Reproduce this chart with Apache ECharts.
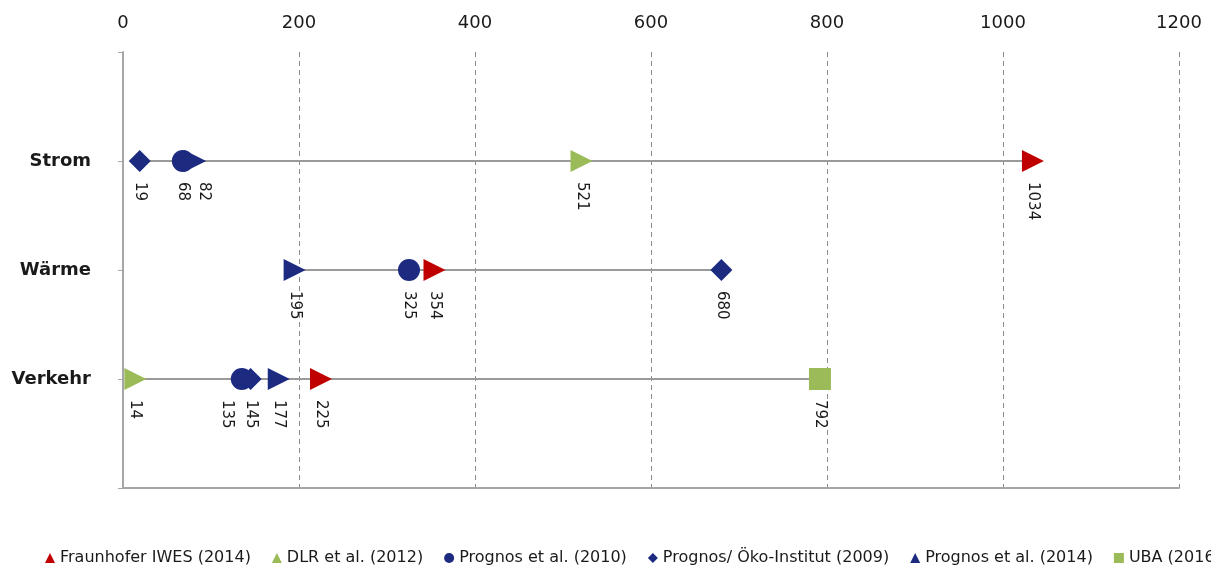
<!DOCTYPE html>
<html>
<head>
<meta charset="utf-8">
<script src="https://cdn.jsdelivr.net/npm/echarts@6/dist/echarts.min.js"></script>
<style>
  html, body { margin: 0; padding: 0; background: #fff; }
  #chart { width: 1211px; height: 569px; }
</style>
</head>
<body>
<div id="chart"></div>
<script>
// Sectors (rows); empty slots pad the top and bottom of the band axis
const sectors = ['Strom', 'Wärme', 'Verkehr'];
const axisSlots = [''].concat(sectors, ['']);

// Values per study, in order Strom, Wärme, Verkehr (null = no value)
const fraunhofer2014 = [1034, 354, 225];
const dlr2012 = [521, null, 14];
const prognos2010 = [68, 325, 135];
const prognosOeko2009 = [19, 680, 145];
const prognos2014 = [82, 195, 177];
const uba2016 = [null, null, 792];

const xTicks = { min: 0, max: 1200, interval: 200 };

const RED = '#C00000';
const GREEN = '#9BBB59';
const NAVY = '#1C2A80';

// Horizontal nudges (px, screen x) for value labels that would otherwise collide
const labelNudge = {
  'Prognos et al. (2014)': [9, 0, 0],
  'Prognos et al. (2010)': [0, 0, -15]
};

const studies = [
  { name: 'Fraunhofer IWES (2014)', values: fraunhofer2014, color: RED, symbol: 'triangle', rotate: -90, size: 22 },
  { name: 'DLR et al. (2012)', values: dlr2012, color: GREEN, symbol: 'triangle', rotate: -90, size: 22 },
  { name: 'Prognos et al. (2010)', values: prognos2010, color: NAVY, symbol: 'circle', rotate: 0, size: 22 },
  { name: 'Prognos/ Öko-Institut (2009)', values: prognosOeko2009, color: NAVY, symbol: 'diamond', rotate: 0, size: 22 },
  { name: 'Prognos et al. (2014)', values: prognos2014, color: NAVY, symbol: 'triangle', rotate: -90, size: 22 },
  { name: 'UBA (2016)', values: uba2016, color: GREEN, symbol: 'rect', rotate: 0, size: 22 }
];

// Range per sector: from the smallest to the largest study value
const ranges = sectors.map((s, i) => {
  const vals = studies.map(st => st.values[i]).filter(v => v != null);
  return [Math.min.apply(null, vals), Math.max.apply(null, vals), s];
});

const FONT = 'DejaVu Sans';

const series = [{
  type: 'custom',
  name: 'range',
  silent: true,
  z: 1,
  data: ranges,
  renderItem: function (params, api) {
    const a = api.coord([api.value(0), api.value(2)]);
    const b = api.coord([api.value(1), api.value(2)]);
    return {
      type: 'line',
      shape: { x1: a[0], y1: a[1], x2: b[0], y2: b[1] },
      style: { stroke: '#9a9a9a', lineWidth: 2 }
    };
  },
  encode: { x: [0, 1], y: 2 }
}];

studies.forEach(st => {
  const nudge = labelNudge[st.name] || [0, 0, 0];
  const data = [];
  st.values.forEach((v, i) => {
    if (v == null) return;
    const item = { value: [v, sectors[i]] };
    // label offset is applied in the rotated text frame: local -y is screen +x
    if (nudge[i]) item.label = { offset: [0, -nudge[i]] };
    data.push(item);
  });
  series.push({
    type: 'scatter',
    name: st.name,
    symbol: st.symbol,
    symbolRotate: st.rotate,
    symbolSize: st.size,
    itemStyle: { color: st.color, opacity: 1 },
    z: 3,
    label: {
      show: true,
      position: 'bottom',
      distance: 10,
      rotate: -90,
      align: 'left',
      verticalAlign: 'middle',
      fontFamily: FONT,
      fontSize: 15,
      color: '#1a1a1a',
      formatter: p => String(p.value[0])
    },
    data: data
  });
});

const chart = echarts.init(document.getElementById('chart'), null, { renderer: 'canvas' });
chart.setOption({
  animation: false,
  backgroundColor: '#fff',
  grid: { left: 123, right: 32, top: 52, bottom: 81, containLabel: false },
  xAxis: [{
    type: 'value',
    position: 'top',
    min: xTicks.min,
    max: xTicks.max,
    interval: xTicks.interval,
    axisLine: { show: false },
    axisTick: { show: false },
    axisLabel: { fontFamily: FONT, fontSize: 18, color: '#1a1a1a', margin: 20, formatter: v => String(v) },
    splitLine: { show: true, lineStyle: { color: '#8a8a8a', type: [5, 4], width: 1 } }
  }, {
    type: 'value',
    position: 'bottom',
    min: xTicks.min,
    max: xTicks.max,
    axisLine: { show: true, onZero: false, lineStyle: { color: '#a6a6a6', width: 2 } },
    axisTick: { show: false },
    axisLabel: { show: false },
    splitLine: { show: false }
  }],
  yAxis: {
    type: 'category',
    data: axisSlots,
    inverse: true,
    boundaryGap: false,
    axisLine: { show: true, lineStyle: { color: '#a6a6a6', width: 2 } },
    axisTick: { show: true, length: 5, lineStyle: { color: '#a6a6a6', width: 1 } },
    axisLabel: { fontFamily: FONT, fontSize: 18, fontWeight: 'bold', color: '#1a1a1a', margin: 32 },
    splitLine: { show: false }
  },
  legend: {
    left: 40,
    top: 545,
    width: 2000,
    itemWidth: 10,
    itemHeight: 10,
    itemGap: 21,
    symbolRotate: 0,
    textStyle: { fontFamily: FONT, fontSize: 16, color: '#1a1a1a' },
    data: studies.map(st => ({ name: st.name, icon: st.symbol }))
  },
  series: series
});
</script>
</body>
</html>
